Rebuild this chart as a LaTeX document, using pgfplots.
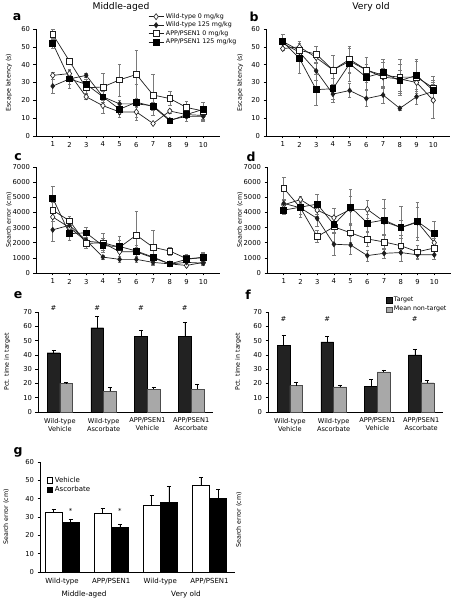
\documentclass[border=0pt]{standalone}
\usepackage{fontspec}
\setmainfont{DejaVu Sans}
\usepackage{pgfplots}
\pgfplotsset{compat=1.18}
\definecolor{ln}{HTML}{1E1E1E}
\definecolor{eb}{HTML}{7A7A7A}
\definecolor{dk}{HTML}{222222}
\definecolor{lt}{HTML}{A8A8A8}
\newcommand\tk{\fontsize{6.8}{8}\selectfont}
\newcommand\lb{\fontsize{6.3}{7}\selectfont}
\newcommand\ttl{\fontsize{9.2}{10}\selectfont}
\newcommand\pl{\fontsize{12.5}{13}\selectfont\bfseries}
\pgfplotsset{
 panel/.style={scale only axis, anchor=south west, axis x line*=bottom, axis y line*=left,
   tick align=outside, major tick length=2.5pt, tick style={black, line width=0.5pt},
   axis line style={black, line width=0.6pt}, /pgf/number format/assume math mode=true,
   /pgf/number format/1000 sep={}, scaled y ticks=false,
   tick label style={font=\tk}, label style={font=\lb}, clip=false,
   y label style={anchor=center}},
 linepanel/.style={panel, xmin=0, xmax=11, xtick={1,...,10},
   legend image code/.code={\draw[mark repeat=2,mark phase=2,##1] plot coordinates {(0pt,0pt) (7.5pt,0pt) (15pt,0pt)};}},
 ser/.style={line width=0.7pt, color=ln,
   /pgfplots/error bars/y dir=both, /pgfplots/error bars/y explicit,
   /pgfplots/error bars/error bar style={eb, line width=0.5pt, solid},
   /pgfplots/error bars/error mark options={eb, rotate=90, mark size=1.8pt, line width=0.5pt}},
 wt0/.style={ser, mark=diamond*, mark options={fill=white, draw=ln, mark size=3pt, solid, line width=0.6pt}},
 wt1/.style={ser, mark=diamond*, mark options={fill=ln, draw=ln, mark size=2.5pt, solid}},
 ap0/.style={ser, mark=square*, mark options={fill=white, draw=ln, mark size=2.9pt, solid, line width=0.6pt}},
 ap1/.style={ser, mark=square*, mark options={fill=black, draw=black, mark size=2.9pt, solid}},
 barpanel/.style={panel, xmin=-0.5, xmax=3.5, xtick={0,1,2,3}, xtick style={draw=none},
   xticklabel style={align=center, font=\fontsize{6.6}{8}\selectfont},
   legend image code/.code={\draw[##1] (0pt,-2.6pt) rectangle (5.4pt,2.6pt);}},
 bars/.style={ybar, bar shift=0pt, /pgfplots/error bars/y dir=plus, /pgfplots/error bars/y explicit,
   /pgfplots/error bars/error bar style={black, line width=0.5pt},
   /pgfplots/error bars/error mark options={black, rotate=90, mark size=2pt, line width=0.5pt}},
}
\begin{document}
\begin{tikzpicture}
\useasboundingbox (0,0) rectangle (467pt,600pt);
\node[font=\ttl] at (121pt,593pt) {Middle-aged};
\node[font=\ttl] at (371pt,593pt) {Very old};
\node[font=\pl] at (17pt,583pt) {a};
\node[font=\pl] at (254pt,583pt) {b};
\node[font=\pl] at (18pt,443pt) {c};
\node[font=\pl] at (251pt,443pt) {d};
\node[font=\pl] at (18pt,305pt) {e};
\node[font=\pl] at (248pt,305pt) {f};
\node[font=\pl] at (18pt,148pt) {g};

% ---- a
\begin{axis}[linepanel, at={(36pt,464pt)}, width=184pt, height=107pt,
  ymin=0, ymax=60, ytick={0,10,...,60}, ylabel={Escape latency (s)},
  y label style={at={(axis description cs:-0.147,0.5)}},
  legend style={at={(axis description cs:0.609,1.165)}, anchor=north west, draw=none, fill=none,
    font=\lb, inner sep=0pt, row sep=-1.8pt}, legend cell align=left]
\addplot[wt0] coordinates {(1,34)+-(0,2) (2,35)+-(0,2) (3,22)+-(0,1.5) (4,17)+-(0,4.5) (5,13.5)+-(0,3) (6,13.5)+-(0,3) (7,7)+-(0,0.5) (8,14)+-(0,1) (9,12)+-(0,2) (10,11.5)+-(0,2)};
\addplot[wt1] coordinates {(1,28)+-(0,4) (2,32)+-(0,5.5) (3,34)+-(0,1) (4,22)+-(0,3) (5,18)+-(0,2) (6,18)+-(0,2) (7,17)+-(0,2) (8,9)+-(0,1) (9,11)+-(0,3) (10,11)+-(0,3)};
\addplot[ap0] coordinates {(1,57)+-(0,3) (2,42)+-(0,1.5) (3,27)+-(0,3) (4,27.5)+-(0,7.5) (5,31.5)+-(0,9) (6,34.5)+-(0,13.5) (7,23)+-(0,11.5) (8,21)+-(0,4) (9,16)+-(0,3.5) (10,14)+-(0,5)};
\addplot[ap1] coordinates {(1,52)+-(0,3) (2,32)+-(0,3) (3,29)+-(0,3) (4,22)+-(0,3) (5,15)+-(0,3) (6,19)+-(0,10) (7,16.5)+-(0,2) (8,8.5)+-(0,1) (9,12)+-(0,2) (10,15)+-(0,4)};
\legend{Wild-type 0 mg/kg, Wild-type 125 mg/kg, APP/PSEN1 0 mg/kg, APP/PSEN1 125 mg/kg}
\end{axis}

% ---- b
\begin{axis}[linepanel, at={(266pt,464pt)}, width=184pt, height=107pt,
  ymin=0, ymax=60, ytick={0,10,...,60}, ylabel={Escape latency (s)},
  y label style={at={(axis description cs:-0.141,0.5)}}]
\addplot[wt0] coordinates {(1,49)+-(0,1) (2,50)+-(0,3) (3,44)+-(0,3) (4,37)+-(0,8) (5,42)+-(0,7) (6,37)+-(0,7) (7,33)+-(0,5) (8,32)+-(0,8) (9,30)+-(0,6) (10,20)+-(0,10)};
\addplot[wt1] coordinates {(1,52)+-(0,3) (2,47)+-(0,3) (3,36.5)+-(0,5) (4,23.5)+-(0,4.5) (5,25.5)+-(0,4) (6,21)+-(0,4.5) (7,23)+-(0,4.5) (8,15.5)+-(0,1) (9,22)+-(0,4) (10,25)+-(0,4)};
\addplot[ap0] coordinates {(1,53)+-(0,4) (2,48)+-(0,4) (3,46)+-(0,4.5) (4,37)+-(0,8) (5,43)+-(0,7.5) (6,37)+-(0,7) (7,34)+-(0,7.5) (8,33)+-(0,10) (9,33)+-(0,9) (10,27)+-(0,6.5)};
\addplot[ap1] coordinates {(1,53)+-(0,4) (2,43.5)+-(0,8.5) (3,26)+-(0,8.5) (4,26.5)+-(0,6) (5,40.5)+-(0,10) (6,33)+-(0,7) (7,35.5)+-(0,7.5) (8,31)+-(0,6) (9,34)+-(0,9) (10,25.5)+-(0,6)};
\end{axis}

% ---- c
\begin{axis}[linepanel, at={(36pt,327pt)}, width=184pt, height=106pt,
  ymin=0, ymax=7000, ytick={0,1000,...,7000}, ylabel={Search error (cm)},
  y label style={at={(axis description cs:-0.147,0.5)}}]
\addplot[wt0] coordinates {(1,3700)+-(0,300) (2,3000)+-(0,300) (3,2100)+-(0,200) (4,2000)+-(0,300) (5,1400)+-(0,300) (6,1400)+-(0,300) (7,1000)+-(0,200) (8,600)+-(0,100) (9,500)+-(0,100) (10,700)+-(0,150)};
\addplot[wt1] coordinates {(1,2850)+-(0,750) (2,3150)+-(0,300) (3,2150)+-(0,200) (4,1050)+-(0,150) (5,900)+-(0,200) (6,900)+-(0,200) (7,700)+-(0,200) (8,600)+-(0,100) (9,700)+-(0,200) (10,650)+-(0,150)};
\addplot[ap0] coordinates {(1,4150)+-(0,500) (2,3450)+-(0,300) (3,1950)+-(0,300) (4,2000)+-(0,600) (5,1700)+-(0,750) (6,2500)+-(0,1600) (7,1700)+-(0,1150) (8,1450)+-(0,250) (9,950)+-(0,300) (10,1000)+-(0,300)};
\addplot[ap1] coordinates {(1,4950)+-(0,800) (2,2600)+-(0,450) (3,2650)+-(0,400) (4,1800)+-(0,300) (5,1750)+-(0,400) (6,1450)+-(0,400) (7,1050)+-(0,200) (8,600)+-(0,100) (9,900)+-(0,300) (10,1050)+-(0,300)};
\end{axis}

% ---- d
\begin{axis}[linepanel, at={(267pt,327pt)}, width=184pt, height=106pt,
  ymin=0, ymax=7000, ytick={0,1000,...,7000}, ylabel={Search error (cm)},
  y label style={at={(axis description cs:-0.147,0.5)}}]
\addplot[wt0] coordinates {(1,4500)+-(0,300) (2,4850)+-(0,250) (3,4150)+-(0,400) (4,3650)+-(0,650) (5,4200)+-(0,900) (6,4200)+-(0,600) (7,3400)+-(0,900) (8,3000)+-(0,500) (9,3350)+-(0,1000) (10,2000)+-(0,300)};
\addplot[wt1] coordinates {(1,4600)+-(0,300) (2,4300)+-(0,650) (3,3600)+-(0,500) (4,1900)+-(0,700) (5,1850)+-(0,600) (6,1150)+-(0,350) (7,1300)+-(0,350) (8,1350)+-(0,550) (9,1200)+-(0,300) (10,1200)+-(0,300)};
\addplot[ap0] coordinates {(1,5600)+-(0,700) (2,4300)+-(0,400) (3,2400)+-(0,400) (4,3050)+-(0,400) (5,2650)+-(0,600) (6,2250)+-(0,500) (7,2050)+-(0,500) (8,1800)+-(0,500) (9,1400)+-(0,400) (10,1650)+-(0,400)};
\addplot[ap1] coordinates {(1,4150)+-(0,300) (2,4350)+-(0,500) (3,4550)+-(0,650) (4,3200)+-(0,500) (5,4350)+-(0,1200) (6,3300)+-(0,600) (7,3500)+-(0,1350) (8,3000)+-(0,1400) (9,3400)+-(0,1250) (10,2600)+-(0,850)};
\end{axis}

% ---- e
\begin{axis}[barpanel, at={(38pt,188pt)}, width=175pt, height=100pt,
  ymin=0, ymax=70, ytick={0,10,...,70}, ylabel={Pct. time in target},
  y label style={at={(axis description cs:-0.177,0.5)}},
  xticklabels={{Wild-type\\Vehicle},{Wild-type\\Ascorbate},{APP/PSEN1\\Vehicle},{APP/PSEN1\\Ascorbate}}]
\addplot[bars, bar width=0.29, fill=dk, draw=black, line width=0.4pt] coordinates {(-0.145,41.5)+-(0,1.5) (0.855,59)+-(0,8) (1.855,53)+-(0,4.5) (2.855,53)+-(0,9.5)};
\addplot[bars, bar width=0.29, fill=lt, draw=black!70, line width=0.4pt] coordinates {(0.145,20)+-(0,0.5) (1.145,14.5)+-(0,2.5) (2.145,16)+-(0,1.5) (3.145,16)+-(0,3.5)};
\node[font=\tk] at (axis cs:-0.145,72.5) {\#};
\node[font=\tk] at (axis cs:0.855,72.5) {\#};
\node[font=\tk] at (axis cs:1.855,72.5) {\#};
\node[font=\tk] at (axis cs:2.855,72.5) {\#};
\end{axis}

% ---- f
\begin{axis}[barpanel, at={(268pt,188pt)}, width=175pt, height=100pt,
  ymin=0, ymax=70, ytick={0,10,...,70}, ylabel={Pct. time in target},
  y label style={at={(axis description cs:-0.171,0.5)}},
  xticklabels={{Wild-type\\Vehicle},{Wild-type\\Ascorbate},{APP/PSEN1\\Vehicle},{APP/PSEN1\\Ascorbate}},
  legend style={at={(axis description cs:0.674,1.17)}, anchor=north west, draw=none, fill=none,
    font=\lb, inner sep=0pt, row sep=-1pt}, legend cell align=left]
\addplot[bars, bar width=0.29, fill=dk, draw=black, line width=0.4pt] coordinates {(-0.145,46.5)+-(0,7.5) (0.855,49)+-(0,4) (1.855,18)+-(0,5) (2.855,40)+-(0,4)};
\addplot[bars, bar width=0.29, fill=lt, draw=black!70, line width=0.4pt] coordinates {(0.145,18.5)+-(0,2.5) (1.145,17.5)+-(0,1.5) (2.145,28)+-(0,1.5) (3.145,20.5)+-(0,1.5)};
\legend{Target, Mean non-target}
\node[font=\tk] at (axis cs:-0.145,65) {\#};
\node[font=\tk] at (axis cs:0.855,65) {\#};
\node[font=\tk] at (axis cs:2.855,65) {\#};
\end{axis}

% ---- g
\begin{axis}[barpanel, at={(40pt,28pt)}, width=195pt, height=110pt, xmin=-0.45, xmax=3.52,
  ymin=0, ymax=60, ytick={0,10,...,60}, ylabel={Search error (cm)},
  y label style={at={(axis description cs:-0.174,0.5)}},
  xticklabels={Wild-type,APP/PSEN1,Wild-type,APP/PSEN1},
  xticklabel style={font=\fontsize{7}{8}\selectfont},
  legend style={at={(axis description cs:0.035,0.885)}, anchor=north west, draw=none, fill=none,
    font=\fontsize{7}{8}\selectfont, inner sep=0pt, row sep=-1pt}, legend cell align=left]
\addplot[bars, bar width=0.35, fill=white, draw=black, line width=0.5pt] coordinates {(-0.175,32.5)+-(0,1.5) (0.825,32)+-(0,3) (1.825,36.5)+-(0,5.5) (2.825,47.5)+-(0,4)};
\addplot[bars, bar width=0.35, fill=black, draw=black, line width=0.5pt] coordinates {(0.175,27)+-(0,2) (1.175,24.5)+-(0,1.5) (2.175,38)+-(0,9) (3.175,40)+-(0,5)};
\legend{Vehicle, Ascorbate}
\node[font=\tk] at (axis cs:0.175,33.5) {*};
\node[font=\tk] at (axis cs:1.175,33.5) {*};
\end{axis}
\node[font=\fontsize{7.3}{8}\selectfont] at (84pt,6pt) {Middle-aged};
\node[font=\fontsize{7.3}{8}\selectfont] at (186pt,6pt) {Very old};
\node[font=\lb, rotate=90] at (239pt,80pt) {Search error (cm)};
\end{tikzpicture}
\end{document}
